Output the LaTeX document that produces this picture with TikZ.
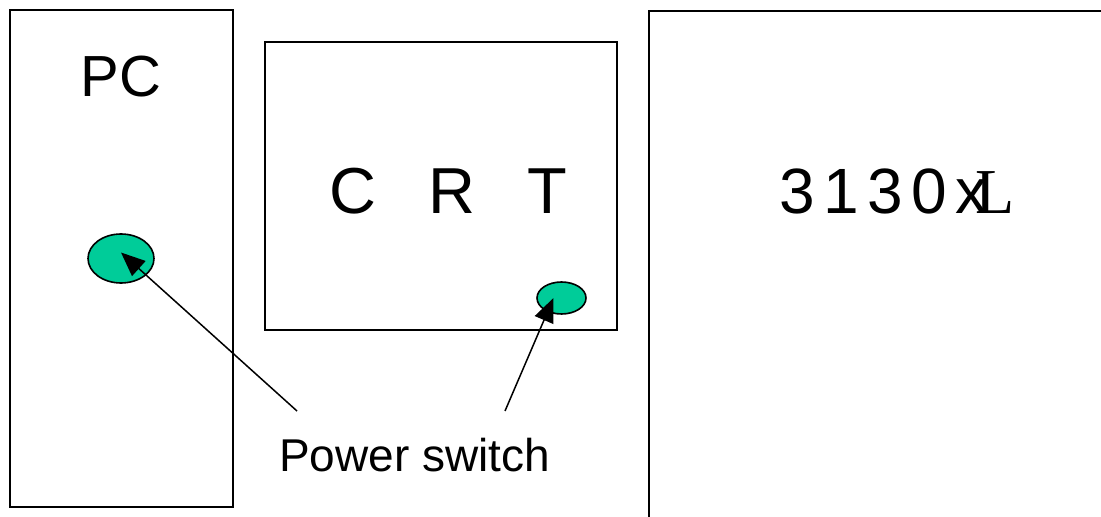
\documentclass[tikz,border=0pt]{standalone}
\usepackage{fontspec}
\setmainfont{Liberation Sans}
\newfontfamily\serifL{Liberation Serif}
\usetikzlibrary{shapes.geometric, arrows.meta, positioning}
\definecolor{switchgreen}{RGB}{0,204,153}

\begin{document}
\begin{tikzpicture}[
  x=0.5pt, y=-0.5pt,
  box/.style={rectangle, draw, line width=0.8pt, inner sep=0pt},
  switch/.style={ellipse, draw, line width=0.8pt, fill=switchgreen, inner sep=0pt},
  title/.style={anchor=base, inner sep=0pt},
  arrow/.style={-{Triangle[length=12pt, width=10pt]}, line width=0.75pt}
]

\def\gap{\hspace{.8em}}
\def\trk{\kern.13em}

\useasboundingbox (0,0) rectangle (1101,517);

% Boxes
\node[box, minimum width=111.5pt, minimum height=248.5pt] (pc) at (121.5,258.5) {};
\node[box, minimum width=176pt, minimum height=144pt] (crt) at (441,186) {};
\draw[line width=0.8pt] (1102,11) -- (649,11) -- (649,518);

% Switches
\node[switch, minimum width=33pt, minimum height=24.5pt] (pcsw) at (121,258.5) {};
\node[switch, minimum width=24.5pt, minimum height=16pt] (crtsw) at (561.5,298) {};

% Labels
\node[title, font=\fontsize{29}{34}\selectfont] (pctext) at (121,97) {PC};
\node[title, font=\fontsize{32.5}{38}\selectfont] (crttext) at (448,214) {C\gap R\gap T};
\node[title, font=\fontsize{32}{38}\selectfont] (xltext) at (897,214) {3\trk 1\trk 3\trk 0\trk x\kern-.18em{\serifL L}};
\node[title, font=\fontsize{23}{28}\selectfont] (power) at (414.5,471) {Power switch};

% Arrows
\coordinate (tailpc) at (297,411);
\coordinate (tailcrt) at (505,411);
\draw[arrow] (tailpc) -- ([yshift=3pt]pcsw.center);
\draw[arrow] (tailcrt) -- ([xshift=-4pt]crtsw.center);

\end{tikzpicture}
\end{document}
